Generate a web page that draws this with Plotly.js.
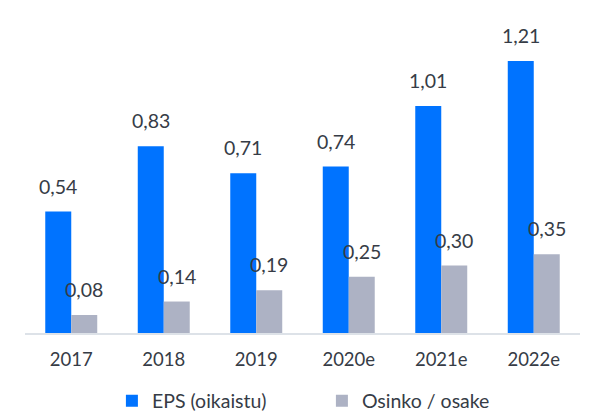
<!DOCTYPE html>
<html>
<head>
<meta charset="utf-8">
<script src="https://cdn.plot.ly/plotly-3.0.1.min.js"></script>
<style>html,body{margin:0;padding:0;background:#fff;}#chart{width:589px;height:413px;}</style>
</head>
<body>
<div id="chart"></div>
<script>
const categories = ["2017", "2018", "2019", "2020e", "2021e", "2022e"];
const epsValues = [0.54, 0.83, 0.71, 0.74, 1.01, 1.21];
const dividendValues = [0.08, 0.14, 0.19, 0.25, 0.30, 0.35];
const seriesNames = ["EPS (oikaistu)", "Osinko / osake"];
const colors = ["#0073ff", "#adb2c4"];

const fmt = v => v.toFixed(2).replace(".", ",");
const textColor = "#363c46";
const fontFamily = "Lato, 'Open Sans', sans-serif";

const traces = [
  {type: "bar", name: seriesNames[0], x: categories, y: epsValues, marker: {color: colors[0]}, hoverinfo: "none"},
  {type: "bar", name: seriesNames[1], x: categories, y: dividendValues, marker: {color: colors[1]}, hoverinfo: "none"}
];

const labelFont = {size: 19.5, color: textColor, family: fontFamily};
const annotations = [];
categories.forEach((c, i) => {
  annotations.push({x: i, y: epsValues[i], text: fmt(epsValues[i]), xref: "x", yref: "y", showarrow: false,
    xanchor: "center", yanchor: "bottom", xshift: -13, yshift: 12, font: labelFont});
  annotations.push({x: i, y: dividendValues[i], text: fmt(dividendValues[i]), xref: "x", yref: "y", showarrow: false,
    xanchor: "center", yanchor: "bottom", xshift: 13, yshift: 12, font: labelFont});
});

const layout = {
  width: 589, height: 413,
  margin: {l: 25, r: 9, t: 20, b: 80, autoexpand: false},
  paper_bgcolor: "#ffffff", plot_bgcolor: "#ffffff",
  barmode: "group", bargap: 0.438, bargroupgap: 0,
  font: {family: fontFamily, size: 18, color: textColor},
  xaxis: {type: "category", range: [-0.5, 5.5], autorange: false, showgrid: false, zeroline: false, showline: true, linecolor: "#dde2e8", linewidth: 2,
    ticks: "outside", ticklen: 9, tickcolor: "rgba(0,0,0,0)", tickfont: {size: 18.5, color: textColor, family: fontFamily}, fixedrange: true, automargin: false},
  yaxis: {range: [0, 1.392], autorange: false, visible: false, showgrid: false, zeroline: false, fixedrange: true},
  showlegend: true,
  legend: {orientation: "h", xref: "container", yref: "container", x: 0.19, xanchor: "left", y: 0.029, yanchor: "middle",
    font: {size: 19.5, color: textColor, family: fontFamily}, entrywidth: 165, entrywidthmode: "pixels", traceorder: "normal"},
  annotations: annotations
};

Plotly.newPlot("chart", traces, layout, {displayModeBar: false, staticPlot: true});
</script>
</body>
</html>
